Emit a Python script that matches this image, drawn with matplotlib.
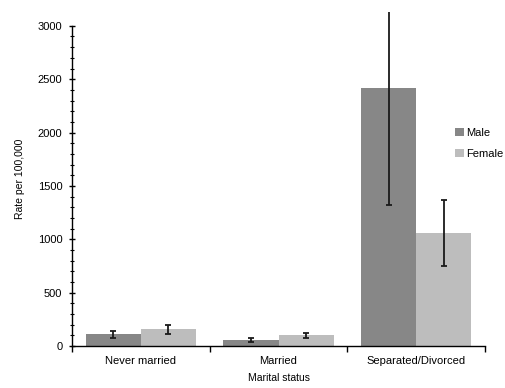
import numpy as np
import matplotlib.pyplot as plt

# data
categories = ["Never married", "Married", "Separated/Divorced"]
male_rate = [110, 56, 2419]
female_rate = [158, 100, 1059]
male_err = [33, 22, 1100]
female_err = [43, 24, 310]

male_color = "#878787"
female_color = "#bdbdbd"

plt.rcParams["font.family"] = ["Liberation Sans", "DejaVu Sans"]

fig = plt.figure(figsize=(5.05, 3.88), dpi=100)
ax = fig.add_axes([0.1426, 0.1082, 0.8178, 0.861])

x = np.arange(len(categories))
width = 0.4

ax.bar(x - width / 2, male_rate, width, color=male_color, label="Male")
ax.bar(x + width / 2, female_rate, width, color=female_color, label="Female")
ax.errorbar(x - width / 2, male_rate, yerr=male_err, fmt="none", ecolor="#1a1a1a",
            elinewidth=1.3, capsize=2.5, capthick=1.3)
ax.errorbar(x + width / 2, female_rate, yerr=female_err, fmt="none", ecolor="#1a1a1a",
            elinewidth=1.3, capsize=2.5, capthick=1.3)

# axes and ticks
ax.set_xlim(-0.5, 2.5)
ax.set_ylim(0, 3130)
ax.spines["top"].set_visible(False)
ax.spines["right"].set_visible(False)
ax.spines["left"].set_bounds(0, 3000)
ax.spines["left"].set_linewidth(1.0)
ax.spines["bottom"].set_linewidth(1.0)

ax.set_yticks(np.arange(0, 3001, 500))
ax.set_yticks(np.arange(0, 3001, 100), minor=True)
ax.tick_params(axis="y", which="major", direction="inout", length=4, width=1.0,
               labelsize=8, pad=5)
ax.tick_params(axis="y", which="minor", direction="inout", length=3, width=0.8)

ax.set_xticks([-0.5, 0.5, 1.5, 2.5])
ax.set_xticklabels([])
ax.set_xticks(x, minor=True)
ax.set_xticklabels(categories, minor=True)
ax.tick_params(axis="x", which="major", direction="out", length=4, width=1.0)
ax.tick_params(axis="x", which="minor", length=0, labelsize=8, pad=7)

fig.text(0.552, 0.025, "Marital status", fontsize=7.5, ha="center", va="center")
ax.set_ylabel("Rate per 100,000", fontsize=7.5, labelpad=9)

ax.legend(loc="upper left", bbox_to_anchor=(0.915, 0.67), frameon=False, fontsize=8,
          handlelength=0.8, handleheight=0.8, handletextpad=0.2, labelspacing=1.0,
          borderpad=0)

fig.savefig("out.png", dpi=100)
